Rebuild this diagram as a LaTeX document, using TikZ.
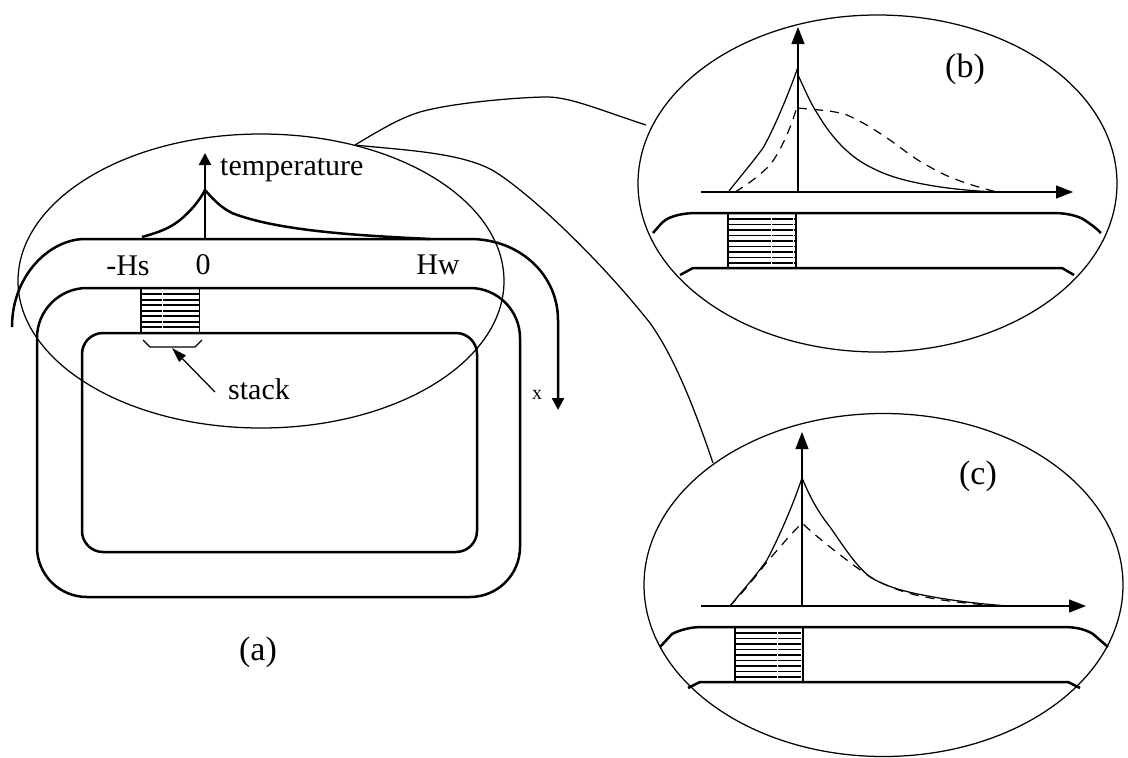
\documentclass[tikz,border=0pt]{standalone}
\usepackage{fontspec}
\setmainfont{Liberation Serif}
\usetikzlibrary{arrows.meta,shapes.geometric}
\tikzset{
  thinline/.style={line width=1.25pt},
  heavyline/.style={line width=2.5pt},
  hatchline/.style={line width=1.4pt},
  gapline/.style={line width=0.9pt,white},
  dashline/.style={line width=1.2pt,dash pattern=on 9pt off 7pt},
  axisarrow/.style={-{Triangle[length=17pt,width=13pt]}},
  lens/.style={ellipse,draw,line width=1.25pt,inner sep=0pt},
  label/.style={inner sep=0pt,font=\fontsize{30}{30}\selectfont},
  caption/.style={inner sep=0pt,font=\fontsize{34}{34}\selectfont},
}
\begin{document}
\begin{tikzpicture}[x=1pt,y=-1pt]
  \useasboundingbox (0,0) rectangle (1128,758);
  \node (lensa) [lens,minimum width=486pt,minimum height=294pt] at (261,281) {};
  \node (lensb) [lens,minimum width=479pt,minimum height=337pt] at (877.5,183.5) {};
  \node (lensc) [lens,minimum width=479pt,minimum height=343pt] at (883.5,585) {};
  \coordinate (hub) at (355,145);
  \coordinate (enterb) at (646,125);
  \coordinate (enterc) at (713,463);
  \draw[thinline] (hub) .. controls (380,130) and (400,118) .. (420,112)
    .. controls (455,102) and (525,97) .. (547,97)
    .. controls (570,97) and (600,110) .. (enterb);
  \draw[thinline] (hub) .. controls (400,150) and (465,152) .. (497,173)
    .. controls (535,198) and (600,260) .. (650,323)
    .. controls (675,358) and (695,410) .. (enterc);

  % panel a
  \draw[heavyline,rounded corners=50pt] (37,288) rectangle (520,597);
  \draw[heavyline,rounded corners=21pt] (82,333) rectangle (477,552);
  \begin{scope}[hatchline]
    \draw (141,294) -- (199,294);
    \draw (141,300) -- (199,300);
    \draw (141,305) -- (199,305);
    \draw (141,311) -- (199,311);
    \draw (141,316) -- (199,316);
    \draw (141,322) -- (199,322);
    \draw (141,327) -- (199,327);
    \draw (141,288) -- (141,333);
    \draw (199.5,288) -- (199.5,333);
  \end{scope}
  \draw[gapline] (162.5,289) -- (162.5,332);
  \draw[thinline] (143,340) -- (150,347) -- (195,347) -- (202,340);
  \coordinate (stackfoot) at (172,348);
  \coordinate (stacktail) at (215,392);
  \draw[thinline,-{Triangle[length=15pt,width=9pt]}] (stacktail) -- (stackfoot);
  \coordinate (xstart) at (12,327);
  \coordinate (xend) at (558,410);
  \draw[heavyline,-{Triangle[length=12pt,width=12pt]}] (xstart)
    .. controls (12,275) and (50,239) .. (85,239) -- (470,239)
    .. controls (520,239) and (558,275) .. (558,320) -- (xend);
  \coordinate (orga) at (205,239);
  \coordinate (topa) at (205,153);
  \draw[heavyline,-{Triangle[length=12pt,width=12pt]}] (orga) -- (topa);
  \draw[heavyline] (142,237) .. controls (160,232) and (170,228) .. (180,220)
    .. controls (190,212) and (200,200) .. (205,190)
    .. controls (212,198) and (220,207) .. (232,213)
    .. controls (280,232) and (370,236) .. (430,239);
  \node (temp) [label,anchor=base west] at (220,175) {temperature};
  \node (hs) [label] at (128,266) {-Hs};
  \node (zero) [label] at (203,265) {0};
  \node (hw) [label] at (438,265) {Hw};
  \node (stack) [label,anchor=base west] at (228,399) {stack};
  \node (xlab) [inner sep=0pt,font=\fontsize{20}{20}\selectfont] at (537,395) {x};
  \node (capa) [caption] at (258,652) {(a)};

  % panel b
  \begin{scope}[hatchline]
    \draw (728,219) -- (796,219);
    \draw (728,224.5) -- (796,224.5);
    \draw (728,230) -- (796,230);
    \draw (728,235.5) -- (796,235.5);
    \draw (728,241) -- (796,241);
    \draw (728,246.5) -- (796,246.5);
    \draw (728,252) -- (796,252);
    \draw (728,257.5) -- (796,257.5);
    \draw (728,263) -- (796,263);
    \draw (728,213) -- (728,268);
    \draw (796,213) -- (796,268);
  \end{scope}
  \draw[gapline] (771,214) -- (771,267);
  \draw[gapline] (793,214) -- (793,267);
  \draw[heavyline] (653,233) .. controls (660,225) and (662,222) .. (667,219)
    .. controls (675,215) and (685,213) .. (697,213) -- (1053,213)
    .. controls (1065,213) and (1075,215) .. (1083,219)
    .. controls (1089,223) and (1095,227) .. (1101,233);
  \draw[heavyline] (680,275) -- (693,268) -- (1062,268) -- (1074,275);
  \coordinate (orgb) at (798,192);
  \coordinate (topb) at (798,27);
  \coordinate (leftb) at (701,192);
  \coordinate (rightb) at (1073,192);
  \draw[thinline,axisarrow] (orgb) -- (topb);
  \draw[thinline,axisarrow] (leftb) -- (rightb);
  \draw[thinline] (729,191) .. controls (740,177) and (752,163) .. (763,148)
    .. controls (775,127) and (790,90) .. (798,67);
  \draw[thinline] (798,75) .. controls (805,90) and (810,102) .. (817,113)
    .. controls (830,135) and (845,152) .. (863,163)
    .. controls (880,173) and (895,178) .. (913,182)
    .. controls (940,188) and (970,191) .. (997,192);
  \draw[dashline] (735,192) .. controls (750,183) and (760,175) .. (770,165)
    .. controls (780,152) and (790,130) .. (796,110);
  \draw[dashline] (798,108) .. controls (815,110) and (832,110) .. (847,115)
    .. controls (865,123) and (880,133) .. (897,145)
    .. controls (910,155) and (920,162) .. (930,167)
    .. controls (945,176) and (965,184) .. (997,192);
  \node (capb) [caption] at (965,69) {(b)};

  % panel c
  \begin{scope}[hatchline]
    \draw (735,633) -- (803,633);
    \draw (735,638.5) -- (803,638.5);
    \draw (735,644) -- (803,644);
    \draw (735,649.5) -- (803,649.5);
    \draw (735,655) -- (803,655);
    \draw (735,660.5) -- (803,660.5);
    \draw (735,666) -- (803,666);
    \draw (735,671.5) -- (803,671.5);
    \draw (735,677) -- (803,677);
    \draw (735,627) -- (735,682);
    \draw (803,627) -- (803,682);
  \end{scope}
  \draw[gapline] (777,628) -- (777,681);
  \draw[gapline] (801,628) -- (801,681);
  \draw[heavyline] (660,647) -- (672,634)
    .. controls (682,629) and (692,627) .. (703,627) -- (1063,627)
    .. controls (1075,627) and (1085,629) .. (1093,634) -- (1108,647);
  \draw[heavyline] (688,688) -- (700,682) -- (1068,682) -- (1080,688);
  \coordinate (orgc) at (802,606);
  \coordinate (topc) at (802,432);
  \coordinate (leftc) at (701,606);
  \coordinate (rightc) at (1086,606);
  \draw[thinline,axisarrow] (orgc) -- (topc);
  \draw[thinline,axisarrow] (leftc) -- (rightc);
  \draw[thinline] (730,606) .. controls (742,591) and (755,577) .. (767,560)
    .. controls (780,535) and (793,505) .. (802,478)
    .. controls (810,497) and (818,512) .. (830,527)
    .. controls (842,544) and (855,565) .. (870,577)
    .. controls (885,586) and (900,590) .. (913,593)
    .. controls (945,600) and (980,604) .. (1008,606);
  \draw[dashline] (730,606) .. controls (745,590) and (755,577) .. (767,562)
    .. controls (780,547) and (790,535) .. (802,523)
    .. controls (815,535) and (830,548) .. (863,572)
    .. controls (880,584) and (900,592) .. (925,597)
    .. controls (950,602) and (975,604) .. (1000,606);
  \node (capc) [caption] at (978,476) {(c)};
\end{tikzpicture}
\end{document}
